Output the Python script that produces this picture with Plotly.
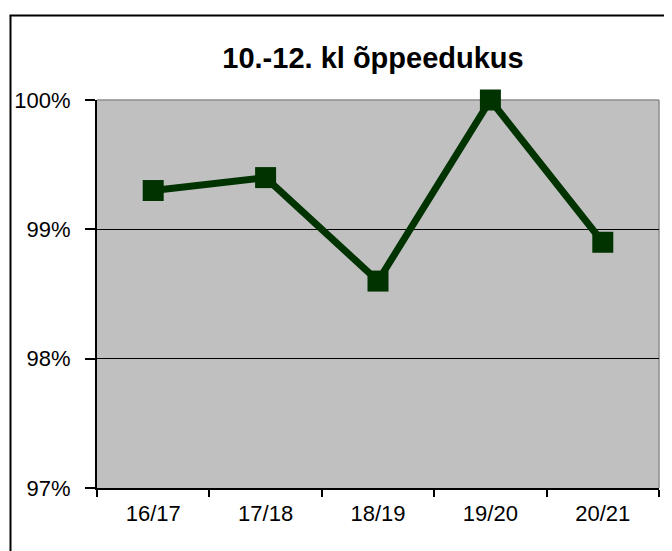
import plotly.graph_objects as go

categories = ["16/17", "17/18", "18/19", "19/20", "20/21"]
values = [99.3, 99.4, 98.6, 100.0, 98.9]
y_ticks = [97, 98, 99, 100]
y_tick_labels = ["97%", "98%", "99%", "100%"]
title_text = "10.-12. kl õppeedukus"

# page body has an 8px margin, so figure pixels are shifted by OFF
OFF = 8
W, H = 672, 551
L, T = 97 - OFF, 100 - OFF
R, B = W - (659 - OFF), H - (488 - OFF)
pw, ph = W - L - R, H - T - B

def px_x(p):
    return (p - OFF - L) / pw

def px_y(p):
    return (H - B - (p - OFF)) / ph

font_family = "Liberation Sans, Arial, sans-serif"

fig = go.Figure()
fig.add_trace(go.Scatter(
    x=categories, y=values, mode="lines+markers",
    line=dict(color="#003300", width=7),
    marker=dict(symbol="square", size=21, color="#003300"),
    cliponaxis=False, showlegend=False,
))

fig.update_layout(
    width=W, height=H,
    margin=dict(l=L, r=R, t=T, b=B, autoexpand=False),
    paper_bgcolor="white",
    plot_bgcolor="#C0C0C0",
    font=dict(family=font_family, size=22, color="black"),
    title=dict(
        text="<b>" + title_text + "</b>",
        font=dict(family=font_family, size=29, color="black"),
        xref="paper", x=px_x(373), xanchor="center",
        yref="container", y=1 - (58 - OFF) / H, yanchor="middle",
    ),
    xaxis=dict(
        type="category", categoryorder="array", categoryarray=categories,
        range=[-0.5, len(categories) - 0.5], automargin=False,
        tickson="boundaries", ticks="outside", ticklen=7, tickwidth=2, tickcolor="black",
        showline=True, linecolor="black", linewidth=2,
        showgrid=False, ticklabelstandoff=5,
        tickfont=dict(size=22, color="black"),
    ),
    yaxis=dict(
        range=[97, 100], tickvals=y_ticks, ticktext=y_tick_labels, automargin=False,
        ticks="outside", ticklen=10, tickwidth=1.5, tickcolor="black",
        showline=True, linecolor="black", linewidth=2,
        showgrid=True, gridcolor="black", gridwidth=1,
        zeroline=False, ticklabelstandoff=10,
        tickfont=dict(size=22, color="black"),
    ),
    shapes=[
        dict(type="line", xref="paper", yref="paper", x0=0, x1=1, y0=1, y1=1,
             line=dict(color="#8C8C8C", width=1.5), layer="between"),
        dict(type="line", xref="paper", yref="paper", x0=1, x1=1, y0=0, y1=1,
             line=dict(color="#8C8C8C", width=1.5), layer="between"),
        dict(type="line", xref="paper", yref="paper",
             x0=px_x(10.5), x1=px_x(10.5), y0=px_y(620), y1=px_y(15.5),
             line=dict(color="black", width=2), layer="above"),
        dict(type="line", xref="paper", yref="paper",
             x0=px_x(9.5), x1=px_x(720), y0=px_y(15.5), y1=px_y(15.5),
             line=dict(color="black", width=2), layer="above"),
    ],
)

fig.write_html("out.html")
